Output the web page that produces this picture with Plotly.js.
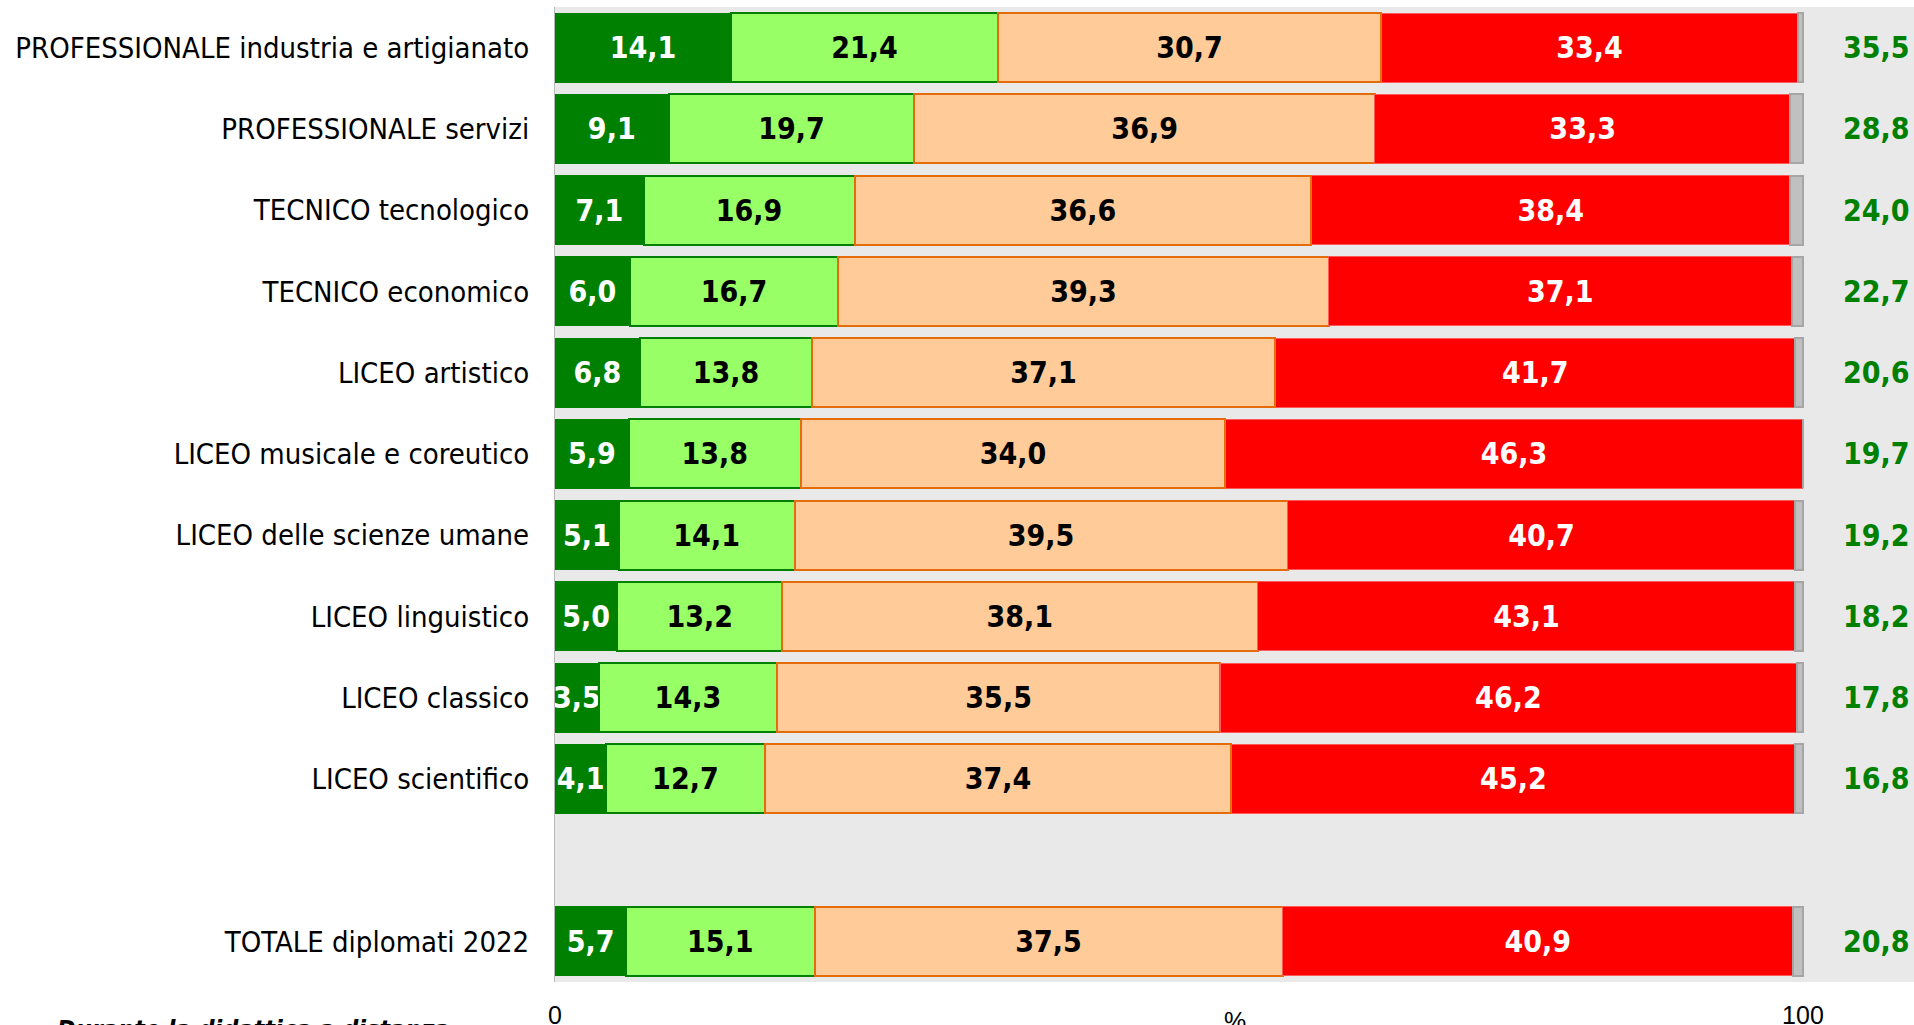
<!DOCTYPE html>
<html>
<head>
<meta charset="utf-8">
<script src="https://cdn.plot.ly/plotly-3.0.1.min.js"></script>
<style>
  html, body { margin: 0; padding: 0; background: #ffffff; }
  #chart { width: 1914px; height: 1025px; }
</style>
</head>
<body>
<div id="chart"></div>
<script>
// ---- Data ----
const categories = [
  'PROFESSIONALE industria e artigianato',
  'PROFESSIONALE servizi',
  'TECNICO tecnologico',
  'TECNICO economico',
  'LICEO artistico',
  'LICEO musicale e coreutico',
  'LICEO delle scienze umane',
  'LICEO linguistico',
  'LICEO classico',
  'LICEO scientifico',
  ' ',
  'TOTALE diplomati 2022'
];
const moltissimo   = [14.1, 9.1, 7.1, 6.0, 6.8, 5.9, 5.1, 5.0, 3.5, 4.1, null, 5.7];
const molto        = [21.4, 19.7, 16.9, 16.7, 13.8, 13.8, 14.1, 13.2, 14.3, 12.7, null, 15.1];
const poco         = [30.7, 36.9, 36.6, 39.3, 37.1, 34.0, 39.5, 38.1, 35.5, 37.4, null, 37.5];
const perNulla     = [33.4, 33.3, 38.4, 37.1, 41.7, 46.3, 40.7, 43.1, 46.2, 45.2, null, 40.9];
const mancate      = [0.4, 1.0, 1.0, 0.9, 0.6, 0.0, 0.6, 0.6, 0.5, 0.6, null, 0.8];
const totalePositivo = [35.5, 28.8, 24.0, 22.7, 20.6, 19.7, 19.2, 18.2, 17.8, 16.8, null, 20.8];
const xTickVals = [0, 100];
const xTickText = ['0', '100'];
const xTitle = '%';
const footnote = 'Durante la didattica a distanza';

// ---- Styles ----
const FONT = "'DejaVu Sans Condensed', 'DejaVu Sans', sans-serif";
const TICKFONT = "'Liberation Sans', Arial, sans-serif";

function seg(name, vals, fill, line, lw, txtColor, showText) {
  return {
    type: 'bar',
    orientation: 'h',
    name: name,
    y: categories,
    x: vals,
    width: 0.85,
    marker: { color: fill, line: { color: line, width: lw } },
    text: showText ? vals.map(v => v == null ? '' : v.toFixed(1).replace('.', ',')) : undefined,
    textposition: showText ? 'inside' : 'none',
    insidetextanchor: 'middle',
    textangle: 0,
    constraintext: 'none',
    insidetextfont: { family: FONT, size: 30, color: txtColor, weight: 'bold' },
    hoverinfo: 'x+name',
    cliponaxis: true
  };
}

const traces = [
  seg('Moltissimo', moltissimo, '#008000', '#008000', 1, '#ffffff', true),
  seg('Molto', molto, '#99FF66', '#008000', 2, '#000000', true),
  seg('Poco', poco, '#FFCC99', '#E46C0A', 2, '#000000', true),
  seg('Per nulla', perNulla, '#FF0000', '#FF5A5A', 1, '#ffffff', true),
  seg('Mancate risposte', mancate, '#C0C0C0', '#A6A6A6', 2, '#000000', false)
];

const annotations = [];
categories.forEach((c, i) => {
  if (totalePositivo[i] == null) return;
  annotations.push({
    xref: 'x', yref: 'y', x: 105.9, y: c,
    text: '<b>' + totalePositivo[i].toFixed(1).replace('.', ',') + '</b>',
    showarrow: false, xanchor: 'center', yanchor: 'middle',
    font: { family: FONT, size: 30, color: '#008000' }
  });
});
annotations.push({
  xref: 'paper', yref: 'paper', x: 0.5, y: -0.024, yanchor: 'top', xanchor: 'center',
  text: xTitle, showarrow: false,
  font: { family: TICKFONT, size: 25, color: '#000000' }
});
annotations.push({
  xref: 'paper', yref: 'paper', x: -0.368, y: -0.032, yanchor: 'top', xanchor: 'left',
  text: '<b><i>' + footnote + '</i></b>', showarrow: false,
  font: { family: FONT, size: 25, color: '#000000' }
});

const layout = {
  width: 1914,
  height: 1025,
  margin: { l: 555, r: 0, t: 7, b: 43 },
  paper_bgcolor: '#ffffff',
  plot_bgcolor: '#E9E9E9',
  barmode: 'stack',
  bargap: 0.15,
  showlegend: false,
  separators: ',.',
  xaxis: {
    range: [0, 108.9],
    tickvals: xTickVals,
    ticktext: xTickText,
    showgrid: false,
    zeroline: false,
    showline: false,
    ticks: '',
    ticklabelstandoff: 16,
    tickfont: { family: TICKFONT, size: 25, color: '#000000' },
    fixedrange: true
  },
  yaxis: {
    type: 'category',
    categoryorder: 'array',
    categoryarray: categories,
    range: [11.5, -0.5],
    showgrid: false,
    zeroline: false,
    showline: true,
    linecolor: '#B8B8B8',
    linewidth: 1,
    ticks: '',
    ticklabelstandoff: 19,
    tickfont: { family: FONT, size: 29, color: '#000000' },
    fixedrange: true
  },
  annotations: annotations
};

Plotly.newPlot('chart', traces, layout, { displayModeBar: false, staticPlot: true });
</script>
</body>
</html>
